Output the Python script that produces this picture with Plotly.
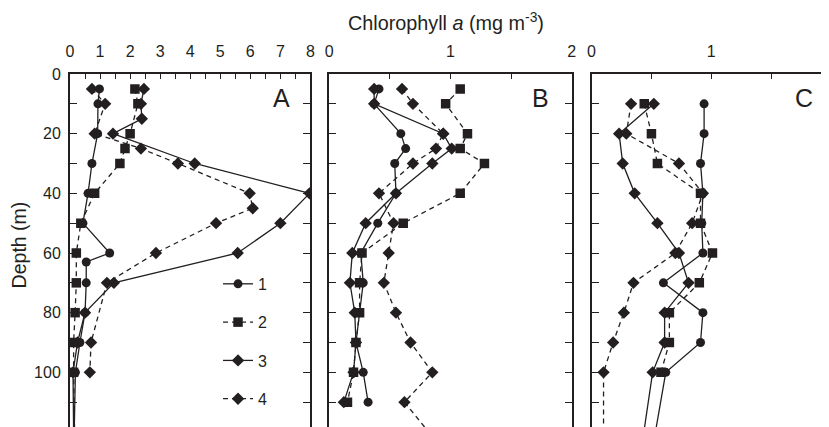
import plotly.graph_objects as go

# ---------------- data ----------------
# Panel A
A_d1 = [5, 10, 20, 30, 40, 50, 60, 63, 70, 80, 90, 100, 130]
A_s1 = [0.98, 0.93, 0.92, 0.73, 0.60, 0.43, 1.32, 0.54, 0.54, 0.50, 0.33, 0.18, 0.12]
A_d2 = [5, 10, 20, 25, 30, 40, 50, 60, 70, 80, 90, 100, 130]
A_s2 = [2.16, 2.26, 2.00, 1.83, 1.66, 0.82, 0.36, 0.21, 0.21, 0.17, 0.12, 0.12, 0.17]
A_d3 = [5, 10, 15, 20, 30, 40, 50, 60, 70, 80, 90, 100, 130]
A_s3 = [2.46, 2.36, 2.39, 1.43, 4.15, 7.97, 7.00, 5.58, 1.46, 0.50, 0.25, 0.10, 0.13]
A_d4 = [5, 10, 20, 25, 30, 40, 45, 50, 60, 70, 90, 100]
A_s4 = [0.73, 1.17, 0.82, 2.36, 3.59, 5.98, 6.08, 4.86, 2.86, 1.23, 0.70, 0.66]

# Panel B
B_d = [5, 10, 20, 25, 30, 40, 50, 60, 70, 80, 90, 100, 110]
B_s1 = [0.41, 0.37, 0.59, 0.63, 0.54, 0.55, 0.40, 0.26, 0.28, 0.25, 0.22, 0.28, 0.32]
B_s2 = [1.08, 0.96, 1.14, 1.08, 1.28, 1.08, 0.61, 0.27, 0.25, 0.25, 0.22, 0.20, 0.15]
B_s3 = [0.37, 0.37, 0.94, 1.01, 0.85, 0.55, 0.30, 0.19, 0.17, 0.21, 0.22, 0.20, 0.12]
B_d4 = [5, 10, 20, 25, 30, 40, 50, 60, 70, 80, 90, 100, 110, 130]
B_s4 = [0.60, 0.69, 0.94, 0.88, 0.69, 0.41, 0.53, 0.49, 0.45, 0.55, 0.67, 0.85, 0.62, 1.02]

# Panel C
C_d1 = [10, 20, 30, 40, 50, 60, 70, 80, 90, 100, 130]
C_s1 = [0.94, 0.94, 0.91, 0.93, 0.92, 0.93, 0.60, 0.93, 0.91, 0.62, 0.49]
C_d2 = [10, 20, 30, 40, 50, 60, 70, 80, 90, 100]
C_s2 = [0.44, 0.50, 0.55, 0.91, 0.91, 1.01, 0.90, 0.65, 0.65, 0.58]
C_d3 = [10, 20, 30, 40, 50, 60, 70, 80, 90, 100, 130]
C_s3 = [0.52, 0.23, 0.26, 0.36, 0.55, 0.73, 0.81, 0.61, 0.61, 0.51, 0.40]
C_d4 = [10, 20, 30, 40, 50, 60, 70, 80, 90, 100, 130]
C_s4 = [0.33, 0.29, 0.73, 0.93, 0.84, 0.70, 0.35, 0.27, 0.18, 0.10, 0.10]

series_names = ["1", "2", "3", "4"]
panel_labels = ["A", "B", "C"]
x_title = "Chlorophyll <i>a</i> (mg m<sup>-3</sup>)"
y_title = "Depth (m)"

# ---------------- style ----------------
INK = "#231f20"
FONT = "Liberation Sans, Arial, Helvetica, sans-serif"
styles = {
    "1": dict(symbol="circle", size=9, dash="solid"),
    "2": dict(symbol="square", size=9.5, dash="5px,4px"),
    "3": dict(symbol="diamond", size=9.5, dash="solid"),
    "4": dict(symbol="diamond", size=9.5, dash="5px,4px"),
}

panels = [
    ("x", "y", [(A_s1, A_d1), (A_s2, A_d2), (A_s3, A_d3), (A_s4, A_d4)]),
    ("x2", "y2", [(B_s1, B_d), (B_s2, B_d), (B_s3, B_d), (B_s4, B_d4)]),
    ("x3", "y3", [(C_s1, C_d1), (C_s2, C_d2), (C_s3, C_d3), (C_s4, C_d4)]),
]

fig = go.Figure()
for pi, (xa, ya, ser) in enumerate(panels):
    for si, (vals, depth) in enumerate(ser):
        name = series_names[si]
        st = styles[name]
        fig.add_trace(go.Scatter(
            x=vals, y=depth, xaxis=xa, yaxis=ya,
            mode="lines+markers", name=name,
            legendgroup=name, showlegend=(pi == 0),
            line=dict(color=INK, width=1.3, dash=st["dash"]),
            marker=dict(symbol=st["symbol"], size=st["size"], color=INK,
                        line=dict(width=0)),
        ))

W, H = 829, 427
ML, MR, MT, MB = 62, 1, 66, 1
PW = W - ML - MR
PH = H - MT - MB

def px_x(p):
    return (p - ML) / PW

def px_y(p):
    return (H - MB - p) / PH

domA = [0, px_x(304)]
domB = [px_x(323), px_x(567)]
domC = [px_x(587), 1.0]

common_x = dict(
    side="top", showline=True, linecolor=INK, linewidth=2, mirror="ticks",
    ticks="inside", ticklen=5, tickwidth=1.3, tickcolor=INK,
    minor=dict(dtick=0.5, ticks="inside", ticklen=5, tickwidth=1.3, tickcolor=INK),
    showgrid=False, zeroline=False, dtick=1,
    tickfont=dict(size=16, color=INK, family=FONT), ticklabelstandoff=9,
)
common_y = dict(
    range=[120, 0], showline=True, linecolor=INK, linewidth=2, mirror="ticks",
    ticks="inside", ticklen=7, tickwidth=1.3, tickcolor=INK, dtick=20,
    minor=dict(dtick=10, ticks="inside", ticklen=7, tickwidth=1.3, tickcolor=INK),
    showgrid=False, zeroline=False,
    tickfont=dict(size=16, color=INK, family=FONT), ticklabelstandoff=4,
)

fig.update_layout(
    width=W, height=H,
    margin=dict(l=ML, r=MR, t=MT, b=MB),
    paper_bgcolor="white", plot_bgcolor="white",
    font=dict(family=FONT, color=INK, size=16),
    xaxis=dict(domain=domA, range=[0, 8], anchor="y", **common_x),
    xaxis2=dict(domain=domB, range=[0, 2], anchor="y2", **common_x),
    xaxis3=dict(domain=domC, range=[0, 2], anchor="y3", **common_x),
    yaxis=dict(domain=[0, 1], anchor="x", **common_y),
    yaxis2=dict(domain=[0, 1], anchor="x2", showticklabels=False, **common_y),
    yaxis3=dict(domain=[0, 1], anchor="x3", showticklabels=False, **common_y),
    showlegend=True,
    legend=dict(x=px_x(211), y=px_y(260), xanchor="left", yanchor="top",
                bgcolor="rgba(0,0,0,0)", font=dict(size=16, color=INK, family=FONT),
                tracegroupgap=14.5, itemwidth=30),
)

annotations = [
    dict(text=x_title, x=px_x(440), y=px_y(13), xref="paper", yref="paper",
         showarrow=False, font=dict(size=19.8, family=FONT, color=INK),
         xanchor="center", yanchor="middle"),
    dict(text=y_title, x=px_x(11), y=px_y(238), xref="paper", yref="paper",
         showarrow=False, textangle=-90, font=dict(size=19.5, family=FONT, color=INK),
         xanchor="center", yanchor="middle"),
]
for lab, cx in zip(panel_labels, [275, 536, 801]):
    annotations.append(dict(text=lab, x=px_x(cx), y=px_y(90), xref="paper", yref="paper",
                            showarrow=False, font=dict(size=25, family=FONT, color=INK),
                            xanchor="center", yanchor="middle"))
fig.update_layout(annotations=annotations)

fig.write_html("out.html")
